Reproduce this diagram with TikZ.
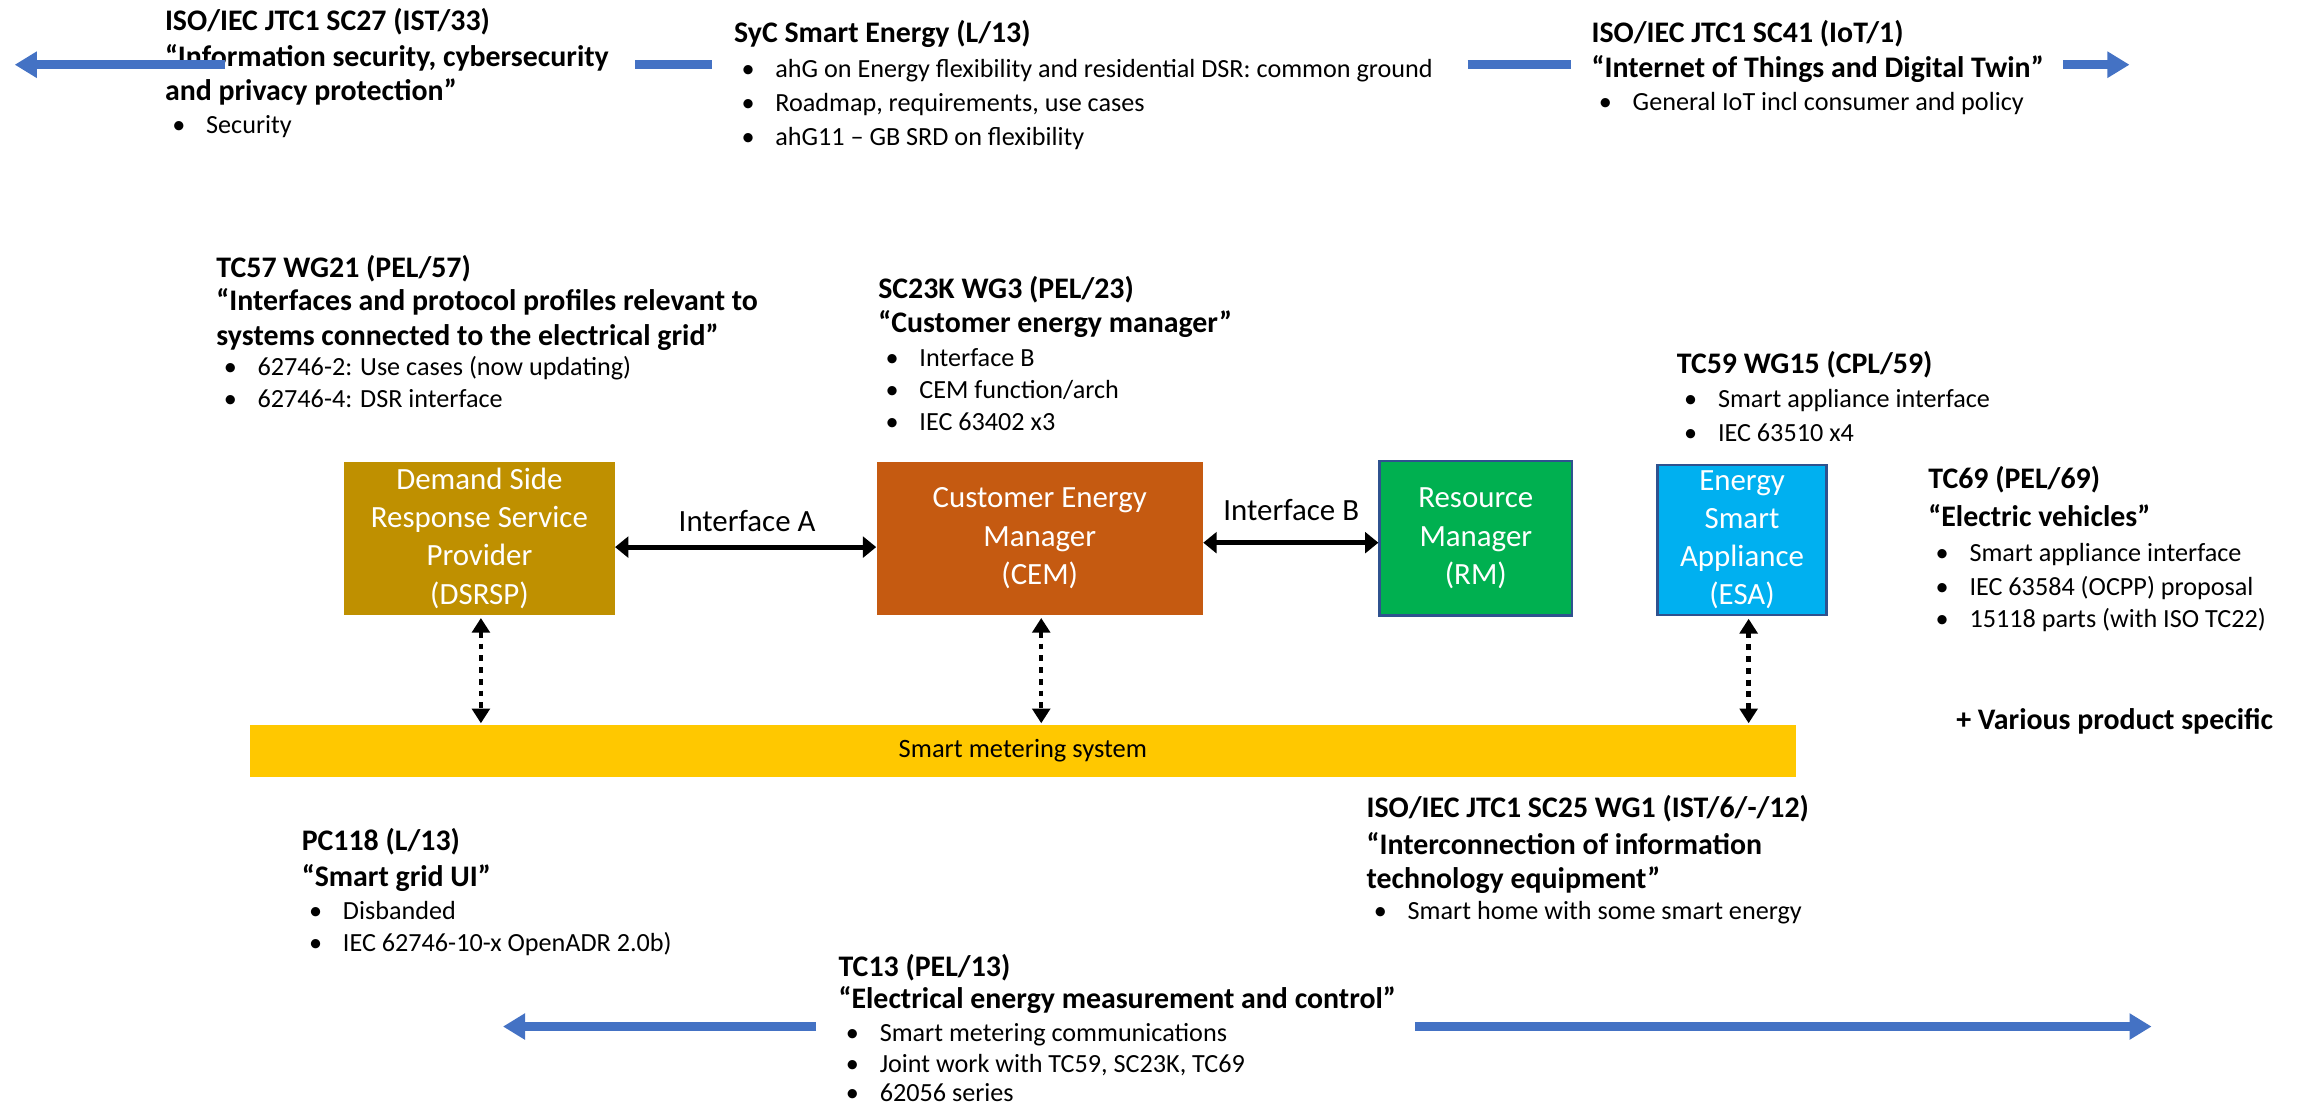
\documentclass[tikz,border=0pt]{standalone}
\usepackage{fontspec}
\setmainfont{Carlito}
\usetikzlibrary{arrows.meta}
\definecolor{blu}{HTML}{4472C4}
\definecolor{dsrcol}{HTML}{BF9000}
\definecolor{cemcol}{HTML}{C55A11}
\definecolor{rmcol}{HTML}{00B050}
\definecolor{esacol}{HTML}{00B0F0}
\definecolor{barcol}{HTML}{FFC800}
\definecolor{edgecol}{HTML}{2F528F}
\newcommand\bu{\makebox[28pt][l]{\hspace{5pt}\textbullet}}
\begin{document}
\begin{tikzpicture}[x=1pt,y=-1pt,
  hd/.style={anchor=base west,inner sep=0pt,font=\fontsize{20.3}{24}\selectfont\bfseries},
  bl/.style={anchor=base west,inner sep=0pt,font=\fontsize{17.8}{21}\selectfont},
  box/.style={inner sep=0pt,align=center,text=white,font=\fontsize{21}{26}\selectfont},
  lab/.style={inner sep=0pt,font=\fontsize{21}{25}\selectfont},
  barrow/.style={draw=blu,line width=6pt,-{Triangle[length=15pt,width=17pt]}},
  bseg/.style={draw=blu,line width=6pt},
  ifarrow/.style={line width=3.5pt,{Triangle[length=9pt,width=14pt]}-{Triangle[length=9pt,width=14pt]}},
  dotarrow/.style={line width=3pt,dash pattern=on 4pt off 4pt,{Triangle[length=10pt,width=12pt]}-{Triangle[length=10pt,width=12pt]},shorten <=2pt,shorten >=1pt}]
\useasboundingbox (0,0) rectangle (1568,753);

% top row
\node[hd] (sc27a) at (112,21) {ISO/IEC JTC1 SC27 (IST/33)};
\node[hd] (sc27b) at (112,45) {“Information security, cybersecurity};
\node[hd] (sc27c) at (112,68) {and privacy protection”};
\node[bl] (sc27d) at (112,91) {\bu Security};

\node[hd] (syca) at (499,29) {SyC Smart Energy (L/13)};
\node[bl] (sycb) at (499,53) {\bu ahG on Energy flexibility and residential DSR: common ground};
\node[bl] (sycc) at (499,76) {\bu Roadmap, requirements, use cases};
\node[bl] (sycd) at (499,99) {\bu ahG11 – GB SRD on flexibility};

\node[hd] (sc41a) at (1082,29) {ISO/IEC JTC1 SC41 (IoT/1)};
\node[hd] (sc41b) at (1082,53) {“Internet of Things and Digital Twin”};
\node[bl] (sc41c) at (1082,75) {\bu General IoT incl consumer and policy};

\coordinate (ta1) at (153,44); \coordinate (ta2) at (10,44);
\draw[barrow] (ta1) -- (ta2);
\coordinate (ts1) at (432,44); \coordinate (ts2) at (484,44);
\draw[bseg] (ts1) -- (ts2);
\coordinate (ts3) at (998,44); \coordinate (ts4) at (1068,44);
\draw[bseg] (ts3) -- (ts4);
\coordinate (tb1) at (1403,44); \coordinate (tb2) at (1448,44);
\draw[barrow] (tb1) -- (tb2);

% middle texts
\node[hd] (tc57a) at (147,189) {TC57 WG21 (PEL/57)};
\node[hd] (tc57b) at (147,211) {“Interfaces and protocol profiles relevant to};
\node[hd] (tc57c) at (147,235) {systems connected to the electrical grid”};
\node[bl] (tc57d) at (147,255) {\bu 62746-2: Use cases (now updating)};
\node[bl] (tc57e) at (147,277) {\bu 62746-4: DSR interface};

\node[hd] (sc23a) at (597,203) {SC23K WG3 (PEL/23)};
\node[hd] (sc23b) at (597,226) {“Customer energy manager”};
\node[bl] (sc23c) at (597,249) {\bu Interface B};
\node[bl] (sc23d) at (597,271) {\bu CEM function/arch};
\node[bl] (sc23e) at (597,293) {\bu IEC 63402 x3};

\node[hd] (tc59a) at (1140,254) {TC59 WG15 (CPL/59)};
\node[bl] (tc59b) at (1140,277) {\bu Smart appliance interface};
\node[bl] (tc59c) at (1140,300) {\bu IEC 63510 x4};

\node[hd] (tc69a) at (1311,332) {TC69 (PEL/69)};
\node[hd] (tc69b) at (1311,358) {“Electric vehicles”};
\node[bl] (tc69c) at (1311,382) {\bu Smart appliance interface};
\node[bl] (tc69d) at (1311,405) {\bu IEC 63584 (OCPP) proposal};
\node[bl] (tc69e) at (1311,427) {\bu 15118 parts (with ISO TC22)};

\node[hd] (various) at (1330,496) {+ Various product specific};

% boxes
\node[box,fill=dsrcol,minimum width=184pt,minimum height=104pt] (dsrsp) at (326,366) {Demand Side\\Response Service\\Provider\\(DSRSP)};
\node[box,fill=cemcol,minimum width=222pt,minimum height=104pt] (cem) at (707,366) {Customer Energy\\Manager\\(CEM)};
\node[box,fill=rmcol,draw=edgecol,line width=1.5pt,minimum width=131pt,minimum height=105pt] (rm) at (1003.5,366) {Resource\\Manager\\(RM)};
\node[box,fill=esacol,draw=edgecol,line width=1.5pt,minimum width=115pt,minimum height=102pt] (esa) at (1184.5,367) {Energy\\Smart\\Appliance\\(ESA)};
\node[inner sep=0pt,fill=barcol,minimum width=1051pt,minimum height=35pt,font=\fontsize{18}{22}\selectfont] (bar) at (695.5,510.5) {Smart metering system};

\draw[ifarrow] ([yshift=-6pt]dsrsp.east) -- ([yshift=-6pt]cem.west);
\node[lab] (ia) at (508,354) {Interface A};
\draw[ifarrow] ([yshift=-3pt]cem.east) -- ([yshift=-3pt]rm.west);
\node[lab] (ib) at (878,347) {Interface B};

\draw[dotarrow] ([xshift=1pt]dsrsp.south) -- ([xshift=1pt]dsrsp.south |- bar.north);
\draw[dotarrow] ([xshift=1pt]cem.south) -- ([xshift=1pt]cem.south |- bar.north);
\draw[dotarrow] ([xshift=4.5pt]esa.south) -- ([xshift=4.5pt]esa.south |- bar.north);

% bottom texts
\node[hd] (pc118a) at (205,578) {PC118 (L/13)};
\node[hd] (pc118b) at (205,603) {“Smart grid UI”};
\node[bl] (pc118c) at (205,625) {\bu Disbanded};
\node[bl] (pc118d) at (205,647) {\bu IEC 62746-10-x OpenADR 2.0b)};

\node[hd] (sc25a) at (929,556) {ISO/IEC JTC1 SC25 WG1 (IST/6/-/12)};
\node[hd] (sc25b) at (929,581) {“Interconnection of information};
\node[hd] (sc25c) at (929,604) {technology equipment”};
\node[bl] (sc25d) at (929,625) {\bu Smart home with some smart energy};

\node[hd] (tc13a) at (570,664) {TC13 (PEL/13)};
\node[hd] (tc13b) at (570,686) {“Electrical energy measurement and control”};
\node[bl] (tc13c) at (570,708) {\bu Smart metering communications};
\node[bl] (tc13d) at (570,729) {\bu Joint work with TC59, SC23K, TC69};
\node[bl] (tc13e) at (570,749) {\bu 62056 series};

\coordinate (ba1) at (555,698); \coordinate (ba2) at (342,698);
\draw[barrow] (ba1) -- (ba2);
\coordinate (bb1) at (962,698); \coordinate (bb2) at (1463,698);
\draw[barrow] (bb1) -- (bb2);
\end{tikzpicture}
\end{document}
